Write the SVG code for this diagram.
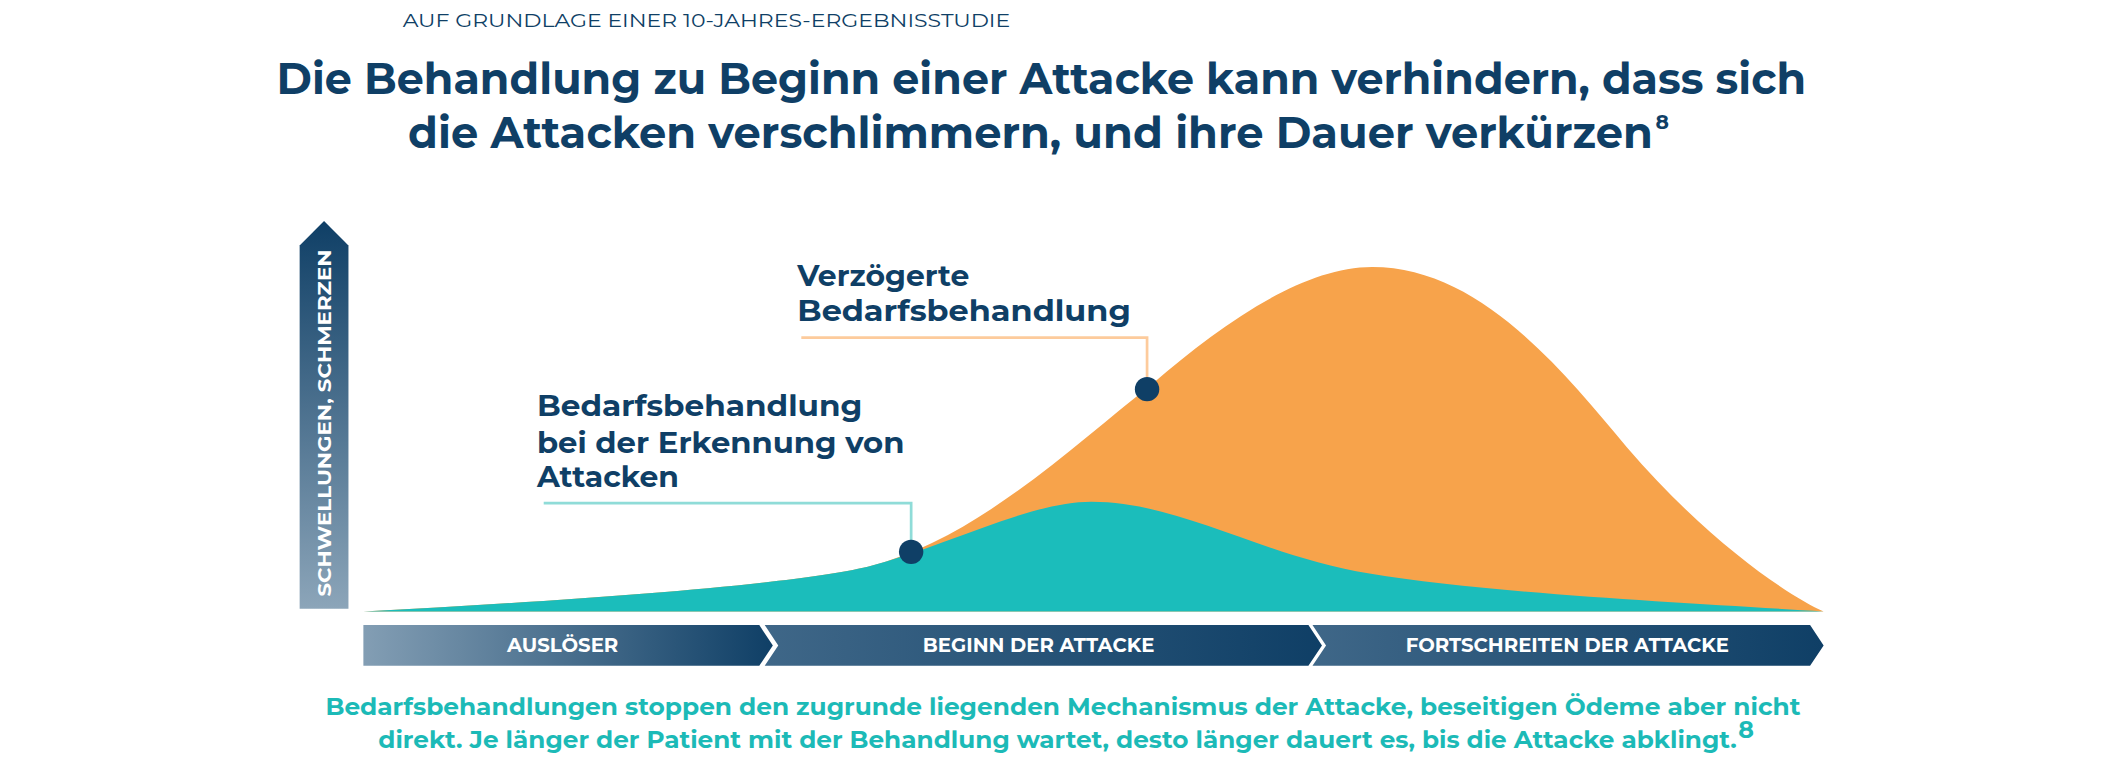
<svg xmlns="http://www.w3.org/2000/svg" width="2126" height="772" viewBox="0 0 2126 772">
<defs>
<linearGradient id="ax" x1="0" y1="0" x2="0" y2="1"><stop offset="0" stop-color="#0f3f66"/><stop offset="1" stop-color="#8ca5b9"/></linearGradient>
<linearGradient id="b1" x1="0" y1="0" x2="1" y2="0"><stop offset="0" stop-color="#839eb4"/><stop offset="1" stop-color="#0f3f66"/></linearGradient>
<linearGradient id="b2" x1="0" y1="0" x2="1" y2="0"><stop offset="0" stop-color="#3f6788"/><stop offset="1" stop-color="#0f3f66"/></linearGradient>
<style>
text{font-family:"Montserrat","Open Sans","Liberation Sans",sans-serif}
.n{fill:#0f3f66;font-weight:700}
.bl{fill:#fff;font-weight:700;font-size:14.5px}
.bt{fill:#1cbab7;font-weight:700;font-size:17.5px}
</style>
</defs>
<rect width="2126" height="772" fill="#fff"/>
<g transform="scale(1.35587)">
<g id="header">
<text x="297" y="20" font-size="14" fill="#0f3f66" textLength="448" lengthAdjust="spacingAndGlyphs">AUF GRUNDLAGE EINER 10-JAHRES-ERGEBNISSTUDIE</text>
<text class="n" x="768" y="69" font-size="32" text-anchor="middle" textLength="1128" lengthAdjust="spacingAndGlyphs">Die Behandlung zu Beginn einer Attacke kann verhindern, dass sich</text>
<text class="n" x="760" y="109" font-size="32" text-anchor="middle" textLength="918" lengthAdjust="spacingAndGlyphs">die Attacken verschlimmern, und ihre Dauer verkürzen</text>
<text class="n" x="1221" y="95" font-size="15">8</text>
</g>
<g id="axis">
<path d="M221,181 L239,163 L257,181 L257,449 L221,449 Z" fill="url(#ax)"/>
<text transform="translate(244,312) rotate(-90)" text-anchor="middle" font-size="14" font-weight="700" fill="#fff" textLength="256" lengthAdjust="spacingAndGlyphs">SCHWELLUNGEN, SCHMERZEN</text>
</g>
<g id="curves">
<path d="M268,451 C420,443 580,432 640,418 C720,398 790,330 850,283 C900,240 960,197 1012,197 C1090,197 1150,270 1200,330 C1260,400 1320,440 1345,451 Z" fill="#f7a34b"/>
<path d="M268,451 C420,443 580,432 640,418 C700,402 760,370 805,370 C870,370 930,410 1010,423 C1100,438 1250,445 1345,451 Z" fill="#1bbdbb"/>
</g>
<g id="connectors" fill="none" stroke-width="2">
<path d="M591,249 L846,249 L846,278" stroke="#fdcb9c"/>
<path d="M401,371 L672,371 L672,400" stroke="#8fdcd8"/>
</g>
<g id="dot-delayed"><circle cx="846" cy="287" r="9" fill="#0f3f66"/></g>
<g id="dot-early"><circle cx="672" cy="407" r="9" fill="#0f3f66"/></g>
<g id="label-delayed">
<text class="n" x="588" y="211" font-size="22">Verzögerte</text>
<text class="n" x="588" y="237" font-size="22" textLength="246" lengthAdjust="spacingAndGlyphs">Bedarfsbehandlung</text>
</g>
<g id="label-early">
<text class="n" x="396" y="307" font-size="22" textLength="240" lengthAdjust="spacingAndGlyphs">Bedarfsbehandlung</text>
<text class="n" x="396" y="334" font-size="22" textLength="271" lengthAdjust="spacingAndGlyphs">bei der Erkennung von</text>
<text class="n" x="396" y="359" font-size="22">Attacken</text>
</g>
<g id="phase-1"><path d="M268,461 L560,461 L570,476 L560,491 L268,491 Z" fill="url(#b1)"/><text class="bl" x="415" y="481" text-anchor="middle">AUSLÖSER</text></g>
<g id="phase-2"><path d="M564,461 L965,461 L975,476 L965,491 L564,491 L574,476 Z" fill="url(#b2)"/><text class="bl" x="766" y="481" text-anchor="middle">BEGINN DER ATTACKE</text></g>
<g id="phase-3"><path d="M968,461 L1335,461 L1345,476 L1335,491 L968,491 L978,476 Z" fill="url(#b2)"/><text class="bl" x="1156" y="481" text-anchor="middle">FORTSCHREITEN DER ATTACKE</text></g>
<g id="footer">
<text class="bt" x="784" y="527" text-anchor="middle" textLength="1088" lengthAdjust="spacingAndGlyphs">Bedarfsbehandlungen stoppen den zugrunde liegenden Mechanismus der Attacke, beseitigen Ödeme aber nicht</text>
<text class="bt" x="780" y="552" text-anchor="middle" textLength="1002" lengthAdjust="spacingAndGlyphs">direkt. Je länger der Patient mit der Behandlung wartet, desto länger dauert es, bis die Attacke abklingt.</text>
<text class="bt" x="1282" y="544" font-size="9">8</text>
</g>
</g>
</svg>
